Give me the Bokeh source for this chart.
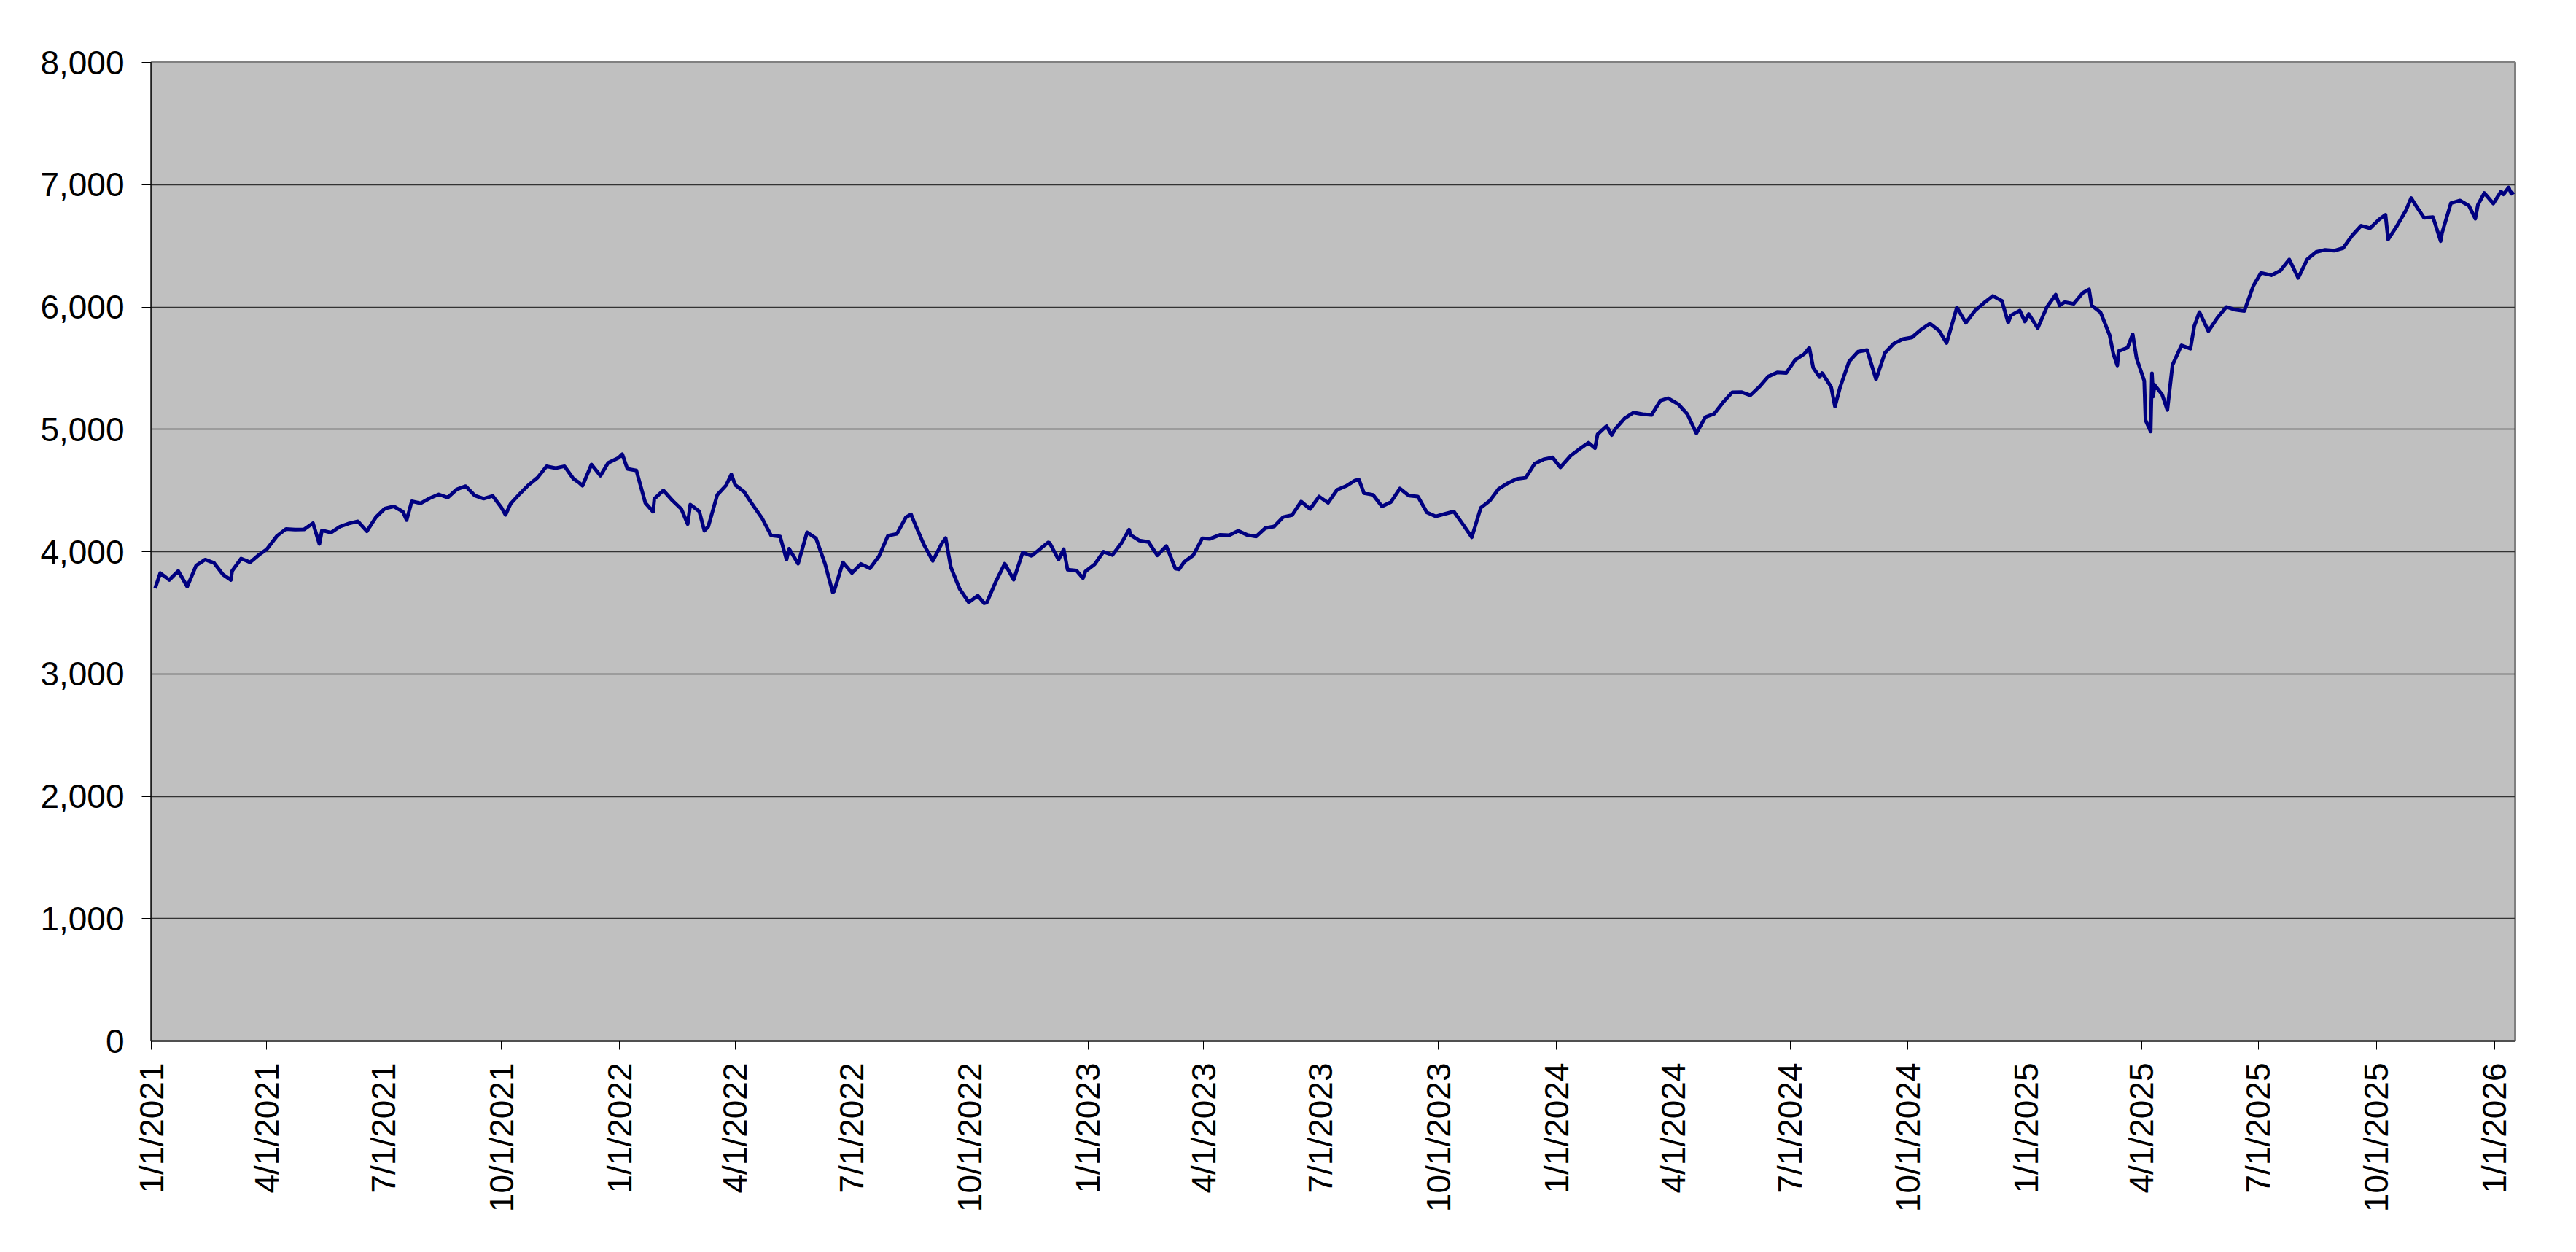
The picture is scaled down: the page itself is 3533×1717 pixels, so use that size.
import math
import pandas as pd
from bokeh.plotting import figure
from bokeh.models import FixedTicker, NumeralTickFormatter, Range1d, ColumnDataSource
from bokeh.embed import file_html
from bokeh.resources import INLINE

# ---------------- data (weekly closes plus notable intraweek points) ----------------
dates_2021 = ["2021-01-04", "2021-01-08", "2021-01-15", "2021-01-22", "2021-01-29", "2021-02-05", "2021-02-12",
              "2021-02-19", "2021-02-26", "2021-03-04", "2021-03-05", "2021-03-12", "2021-03-19", "2021-03-26",
              "2021-04-01", "2021-04-09", "2021-04-16", "2021-04-23", "2021-04-30", "2021-05-07", "2021-05-12",
              "2021-05-14", "2021-05-21", "2021-05-28", "2021-06-04", "2021-06-11", "2021-06-18", "2021-06-25",
              "2021-07-02", "2021-07-09", "2021-07-16", "2021-07-19", "2021-07-23", "2021-07-30", "2021-08-06",
              "2021-08-13", "2021-08-20", "2021-08-27", "2021-09-03", "2021-09-10", "2021-09-17", "2021-09-24",
              "2021-10-01", "2021-10-04", "2021-10-08", "2021-10-15", "2021-10-22", "2021-10-29", "2021-11-05",
              "2021-11-12", "2021-11-19", "2021-11-26", "2021-11-30", "2021-12-03", "2021-12-10", "2021-12-17",
              "2021-12-23", "2021-12-31"]
close_2021 = [3700.65, 3824.68, 3768.25, 3841.47, 3714.24, 3886.83, 3934.83,
              3906.71, 3811.15, 3768.47, 3841.94, 3943.34, 3913.10, 3974.54,
              4019.87, 4128.80, 4185.47, 4180.17, 4181.17, 4232.60, 4063.04,
              4173.85, 4155.86, 4204.11, 4229.89, 4247.44, 4166.45, 4280.70,
              4352.34, 4369.55, 4327.16, 4258.49, 4411.79, 4395.26, 4436.52,
              4468.00, 4441.67, 4509.37, 4535.43, 4458.58, 4432.99, 4455.48,
              4357.04, 4300.46, 4391.34, 4471.37, 4544.90, 4605.38, 4697.53,
              4682.85, 4697.96, 4594.62, 4567.00, 4538.43, 4712.02, 4620.64,
              4725.79, 4766.18]

dates_2022 = ["2022-01-03", "2022-01-07", "2022-01-14", "2022-01-21", "2022-01-27", "2022-01-28", "2022-02-04",
              "2022-02-11", "2022-02-18", "2022-02-23", "2022-02-25", "2022-03-04", "2022-03-08", "2022-03-11",
              "2022-03-18", "2022-03-25", "2022-03-29", "2022-04-01", "2022-04-08", "2022-04-14", "2022-04-22",
              "2022-04-29", "2022-05-06", "2022-05-11", "2022-05-13", "2022-05-20", "2022-05-27", "2022-06-03",
              "2022-06-10", "2022-06-16", "2022-06-17", "2022-06-24", "2022-07-01", "2022-07-08", "2022-07-15",
              "2022-07-22", "2022-07-29", "2022-08-05", "2022-08-12", "2022-08-16", "2022-08-19", "2022-08-26",
              "2022-09-02", "2022-09-09", "2022-09-12", "2022-09-16", "2022-09-23", "2022-09-30", "2022-10-07",
              "2022-10-12", "2022-10-14", "2022-10-21", "2022-10-28", "2022-11-04", "2022-11-11", "2022-11-18",
              "2022-11-25", "2022-12-01", "2022-12-02", "2022-12-09", "2022-12-13", "2022-12-16", "2022-12-23",
              "2022-12-28", "2022-12-30"]
close_2022 = [4796.56, 4677.03, 4662.85, 4397.94, 4326.51, 4431.85, 4500.53,
              4418.64, 4348.87, 4225.50, 4384.65, 4328.87, 4170.70, 4204.31,
              4463.12, 4543.06, 4631.60, 4545.86, 4488.28, 4392.59, 4271.78,
              4131.93, 4123.34, 3935.18, 4023.89, 3901.36, 4158.24, 4108.54,
              3900.86, 3666.77, 3674.84, 3911.74, 3825.33, 3899.38, 3863.16,
              3961.63, 4130.29, 4145.19, 4280.15, 4305.20, 4228.48, 4057.66,
              3924.26, 4067.36, 4110.41, 3873.33, 3693.23, 3585.62, 3639.66,
              3577.03, 3583.07, 3752.75, 3901.06, 3770.55, 3992.93, 3965.34,
              4026.12, 4076.57, 4071.70, 3934.38, 4019.65, 3852.36, 3844.82,
              3783.22, 3839.50]

dates_2023 = ["2023-01-06", "2023-01-13", "2023-01-20", "2023-01-27", "2023-02-02", "2023-02-03", "2023-02-10",
              "2023-02-17", "2023-02-24", "2023-03-03", "2023-03-10", "2023-03-13", "2023-03-17", "2023-03-24",
              "2023-03-31", "2023-04-06", "2023-04-14", "2023-04-21", "2023-04-28", "2023-05-05", "2023-05-12",
              "2023-05-19", "2023-05-26", "2023-06-02", "2023-06-09", "2023-06-16", "2023-06-23", "2023-06-30",
              "2023-07-07", "2023-07-14", "2023-07-21", "2023-07-28", "2023-07-31", "2023-08-04", "2023-08-11",
              "2023-08-18", "2023-08-25", "2023-09-01", "2023-09-08", "2023-09-15", "2023-09-22", "2023-09-29",
              "2023-10-06", "2023-10-13", "2023-10-20", "2023-10-27", "2023-11-03", "2023-11-10", "2023-11-17",
              "2023-11-24", "2023-12-01", "2023-12-08", "2023-12-15", "2023-12-22", "2023-12-29"]
close_2023 = [3895.08, 3999.09, 3972.61, 4070.56, 4179.76, 4136.48, 4090.46,
              4079.09, 3970.04, 4045.64, 3861.59, 3855.76, 3916.64, 3970.99,
              4109.31, 4105.02, 4137.64, 4133.52, 4169.48, 4136.25, 4124.08,
              4191.98, 4205.45, 4282.37, 4298.86, 4409.59, 4348.33, 4450.38,
              4398.95, 4505.42, 4536.34, 4582.23, 4588.96, 4478.03, 4464.05,
              4369.71, 4405.71, 4515.77, 4457.49, 4450.32, 4320.06, 4288.05,
              4308.50, 4327.78, 4224.16, 4117.37, 4358.34, 4415.24, 4514.02,
              4559.34, 4594.63, 4604.37, 4719.19, 4754.63, 4769.83]

dates_2024 = ["2024-01-04", "2024-01-12", "2024-01-19", "2024-01-26", "2024-01-31", "2024-02-02", "2024-02-09",
              "2024-02-13", "2024-02-16", "2024-02-23", "2024-03-01", "2024-03-08", "2024-03-15", "2024-03-22",
              "2024-03-28", "2024-04-05", "2024-04-12", "2024-04-19", "2024-04-26", "2024-05-03", "2024-05-10",
              "2024-05-17", "2024-05-24", "2024-05-31", "2024-06-07", "2024-06-14", "2024-06-21", "2024-06-28",
              "2024-07-05", "2024-07-12", "2024-07-16", "2024-07-19", "2024-07-24", "2024-07-26", "2024-08-02",
              "2024-08-05", "2024-08-09", "2024-08-16", "2024-08-23", "2024-08-30", "2024-09-06", "2024-09-13",
              "2024-09-20", "2024-09-27", "2024-10-04", "2024-10-11", "2024-10-18", "2024-10-25", "2024-10-31",
              "2024-11-08", "2024-11-15", "2024-11-22", "2024-11-29", "2024-12-06", "2024-12-13", "2024-12-18",
              "2024-12-20", "2024-12-27", "2024-12-31"]
close_2024 = [4688.68, 4783.83, 4839.81, 4890.97, 4845.65, 4958.61, 5026.61,
              4953.17, 5005.57, 5088.80, 5137.08, 5123.69, 5117.09, 5234.18,
              5254.35, 5204.34, 5123.41, 4967.23, 5099.96, 5127.79, 5222.68,
              5303.27, 5304.72, 5277.51, 5346.99, 5431.60, 5464.62, 5460.48,
              5567.19, 5615.35, 5667.20, 5505.00, 5427.13, 5459.10, 5346.56,
              5186.33, 5344.16, 5554.25, 5634.61, 5648.40, 5408.42, 5626.02,
              5702.55, 5738.17, 5751.07, 5815.03, 5864.67, 5808.12, 5705.45,
              5995.54, 5870.62, 5969.34, 6032.38, 6090.27, 6051.09, 5872.16,
              5930.85, 5970.84, 5881.63]

dates_2025 = ["2025-01-03", "2025-01-10", "2025-01-17", "2025-01-24", "2025-01-27", "2025-01-31", "2025-02-07",
              "2025-02-14", "2025-02-19", "2025-02-21", "2025-02-28", "2025-03-07", "2025-03-10", "2025-03-13",
              "2025-03-14", "2025-03-21", "2025-03-25", "2025-03-28", "2025-04-03", "2025-04-04", "2025-04-08",
              "2025-04-09", "2025-04-10", "2025-04-11", "2025-04-17", "2025-04-21", "2025-04-25", "2025-05-02",
              "2025-05-09", "2025-05-12", "2025-05-16", "2025-05-23", "2025-05-30", "2025-06-06", "2025-06-13",
              "2025-06-20", "2025-06-27", "2025-07-03", "2025-07-11", "2025-07-18", "2025-07-25", "2025-08-01",
              "2025-08-08", "2025-08-15", "2025-08-22", "2025-08-29", "2025-09-05", "2025-09-12", "2025-09-19",
              "2025-09-26", "2025-10-03", "2025-10-08", "2025-10-10", "2025-10-17", "2025-10-24", "2025-10-28",
              "2025-10-31", "2025-11-07", "2025-11-14", "2025-11-20", "2025-11-21", "2025-11-28", "2025-12-05",
              "2025-12-12", "2025-12-17", "2025-12-19", "2025-12-24", "2025-12-31"]
close_2025 = [5942.47, 5827.04, 5996.66, 6101.24, 6012.28, 6040.53, 6025.99,
              6114.63, 6144.15, 6013.13, 5954.50, 5770.20, 5614.56, 5521.52,
              5638.94, 5667.56, 5776.65, 5580.94, 5396.52, 5074.08, 4982.77,
              5456.90, 5268.05, 5363.36, 5282.70, 5158.20, 5525.21, 5686.67,
              5659.91, 5844.19, 5958.38, 5802.82, 5911.69, 6000.36, 5976.97,
              5967.84, 6173.07, 6279.35, 6259.75, 6296.79, 6388.64, 6238.01,
              6389.45, 6449.80, 6466.91, 6460.26, 6481.50, 6584.29, 6664.36,
              6643.70, 6715.79, 6753.72, 6552.51, 6664.01, 6791.69, 6890.89,
              6840.20, 6728.80, 6734.11, 6538.76, 6602.99, 6849.09, 6870.40,
              6827.41, 6721.43, 6834.50, 6932.05, 6845.50]

dates_2026 = ["2026-01-06", "2026-01-08", "2026-01-12", "2026-01-14", "2026-01-16"]
close_2026 = [6944, 6921, 6977, 6926, 6940]

tick_dates = ["2021-01-01", "2021-04-01", "2021-07-01", "2021-10-01", "2022-01-01", "2022-04-01", "2022-07-01",
              "2022-10-01", "2023-01-01", "2023-04-01", "2023-07-01", "2023-10-01", "2024-01-01", "2024-04-01",
              "2024-07-01", "2024-10-01", "2025-01-01", "2025-04-01", "2025-07-01", "2025-10-01", "2026-01-01"]
tick_labels = ["1/1/2021", "4/1/2021", "7/1/2021", "10/1/2021", "1/1/2022", "4/1/2022", "7/1/2022",
               "10/1/2022", "1/1/2023", "4/1/2023", "7/1/2023", "10/1/2023", "1/1/2024", "4/1/2024",
               "7/1/2024", "10/1/2024", "1/1/2025", "4/1/2025", "7/1/2025", "10/1/2025", "1/1/2026"]
y_ticks = [0, 1000, 2000, 3000, 4000, 5000, 6000, 7000, 8000]
x_start, x_end = "2021-01-01", "2026-01-17"


def to_ms(ds):
    return [pd.Timestamp(d).value / 1e6 for d in ds]


all_dates = dates_2021 + dates_2022 + dates_2023 + dates_2024 + dates_2025 + dates_2026
all_close = close_2021 + close_2022 + close_2023 + close_2024 + close_2025 + close_2026
src = ColumnDataSource(data=dict(x=to_ms(all_dates), y=all_close))

tick_ms = to_ms(tick_dates)

p = figure(width=3517, height=1701, output_backend="svg", toolbar_location=None,
           x_range=Range1d(to_ms([x_start])[0], to_ms([x_end])[0]),
           y_range=Range1d(y_ticks[0], y_ticks[-1]),
           min_border_left=207, min_border_right=68, min_border_top=85, min_border_bottom=274)

p.background_fill_color = "#C0C0C0"
p.border_fill_color = "white"
p.outline_line_color = "#808080"
p.outline_line_width = 3

p.line("x", "y", source=src, line_color="#000080", line_width=5, line_join="round")

# grid
p.xgrid.visible = False
p.ygrid.grid_line_color = "#333333"
p.ygrid.grid_line_width = 1.5

# x axis
xa = p.xaxis[0]
xa.ticker = FixedTicker(ticks=tick_ms)
xa.major_label_overrides = {t: lab for t, lab in zip(tick_ms, tick_labels)}
xa.major_label_orientation = math.pi / 2
xa.major_label_text_font = "Liberation Sans"
xa.major_label_text_font_size = "46px"
xa.major_label_text_color = "black"
xa.major_label_standoff = 18
xa.major_tick_out = 12
xa.major_tick_in = 0
xa.major_tick_line_color = "black"
xa.minor_tick_line_color = None
xa.axis_line_color = "#202020"
xa.axis_line_width = 2

# y axis
ya = p.yaxis[0]
ya.ticker = FixedTicker(ticks=y_ticks)
ya.formatter = NumeralTickFormatter(format="0,0")
ya.major_label_text_font = "Liberation Sans"
ya.major_label_text_font_size = "46px"
ya.major_label_text_color = "black"
ya.major_label_standoff = 24
ya.major_tick_out = 13
ya.major_tick_in = 0
ya.major_tick_line_color = "black"
ya.minor_tick_line_color = None
ya.axis_line_color = "#202020"
ya.axis_line_width = 2

open("out.html", "w").write(file_html(p, INLINE))
